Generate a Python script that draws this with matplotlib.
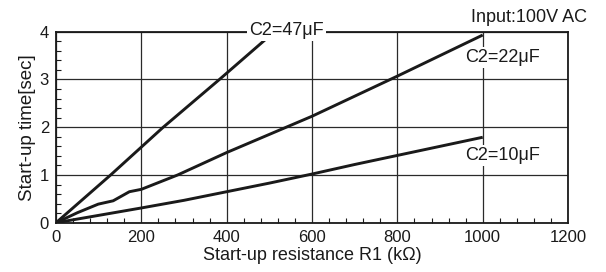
import matplotlib
matplotlib.use("Agg")
import matplotlib.pyplot as plt
from matplotlib.ticker import MultipleLocator

# data
r47 = [0, 128, 250, 383, 490]
t47 = [0, 1.0, 1.99, 3.0, 3.83]

r22 = [0, 50, 99, 134, 172, 200, 285, 400, 600, 800, 1000]
t22 = [0, 0.21, 0.39, 0.46, 0.65, 0.70, 1.0, 1.47, 2.23, 3.07, 3.93]

r10 = [0, 100, 200, 300, 400, 500, 600, 700, 800, 900, 1000]
t10 = [0, 0.155, 0.31, 0.47, 0.65, 0.83, 1.02, 1.22, 1.41, 1.60, 1.79]

xticks = [0, 200, 400, 600, 800, 1000, 1200]
yticks = [0, 1, 2, 3, 4]

plt.rcParams['font.family'] = ['Liberation Sans', 'DejaVu Sans']

fig = plt.figure(figsize=(6.06, 2.72), dpi=100)
ax = fig.add_axes([0.0924, 0.181, 0.845, 0.7025])

for x, y in [(r47, t47), (r22, t22), (r10, t10)]:
    ax.plot(x, y, color='#1a1a1a', lw=2.1, solid_capstyle='butt', zorder=3)

ax.set_xlim(0, 1200)
ax.set_ylim(0, 4)
ax.set_xticks(xticks)
ax.set_yticks(yticks)
ax.xaxis.set_minor_locator(MultipleLocator(40))
ax.yaxis.set_minor_locator(MultipleLocator(0.2))
ax.tick_params(which='major', length=0, pad=5, labelsize=12, colors='#1a1a1a')
ax.tick_params(which='minor', direction='in', length=3.6, width=0.8, color='#1a1a1a')
ax.grid(which='major', color='#2a2a2a', lw=0.9)
for s in ax.spines.values():
    s.set_linewidth(1.3)
    s.set_color('#1a1a1a')

ax.set_xlabel('Start-up resistance R1 (kΩ)', fontsize=13, labelpad=2, color='#1a1a1a')
ax.set_ylabel('Start-up time[sec]', fontsize=13.5, labelpad=3, color='#1a1a1a')

box = dict(facecolor='white', edgecolor='none', pad=1.5)
ax.text(541, 3.93, 'C2=47μF', ha='center', va='baseline', fontsize=13,
        bbox=box, zorder=5, clip_on=False, color='#1a1a1a')
ax.text(959, 3.37, 'C2=22μF', ha='left', va='baseline', fontsize=13,
        bbox=box, zorder=5, color='#1a1a1a')
ax.text(959, 1.31, 'C2=10μF', ha='left', va='baseline', fontsize=13,
        bbox=box, zorder=5, color='#1a1a1a')
fig.text(0.9686, 0.92, 'Input:100V AC', ha='right', va='baseline', fontsize=13,
         color='#1a1a1a')

fig.savefig('out.png', dpi=100)
